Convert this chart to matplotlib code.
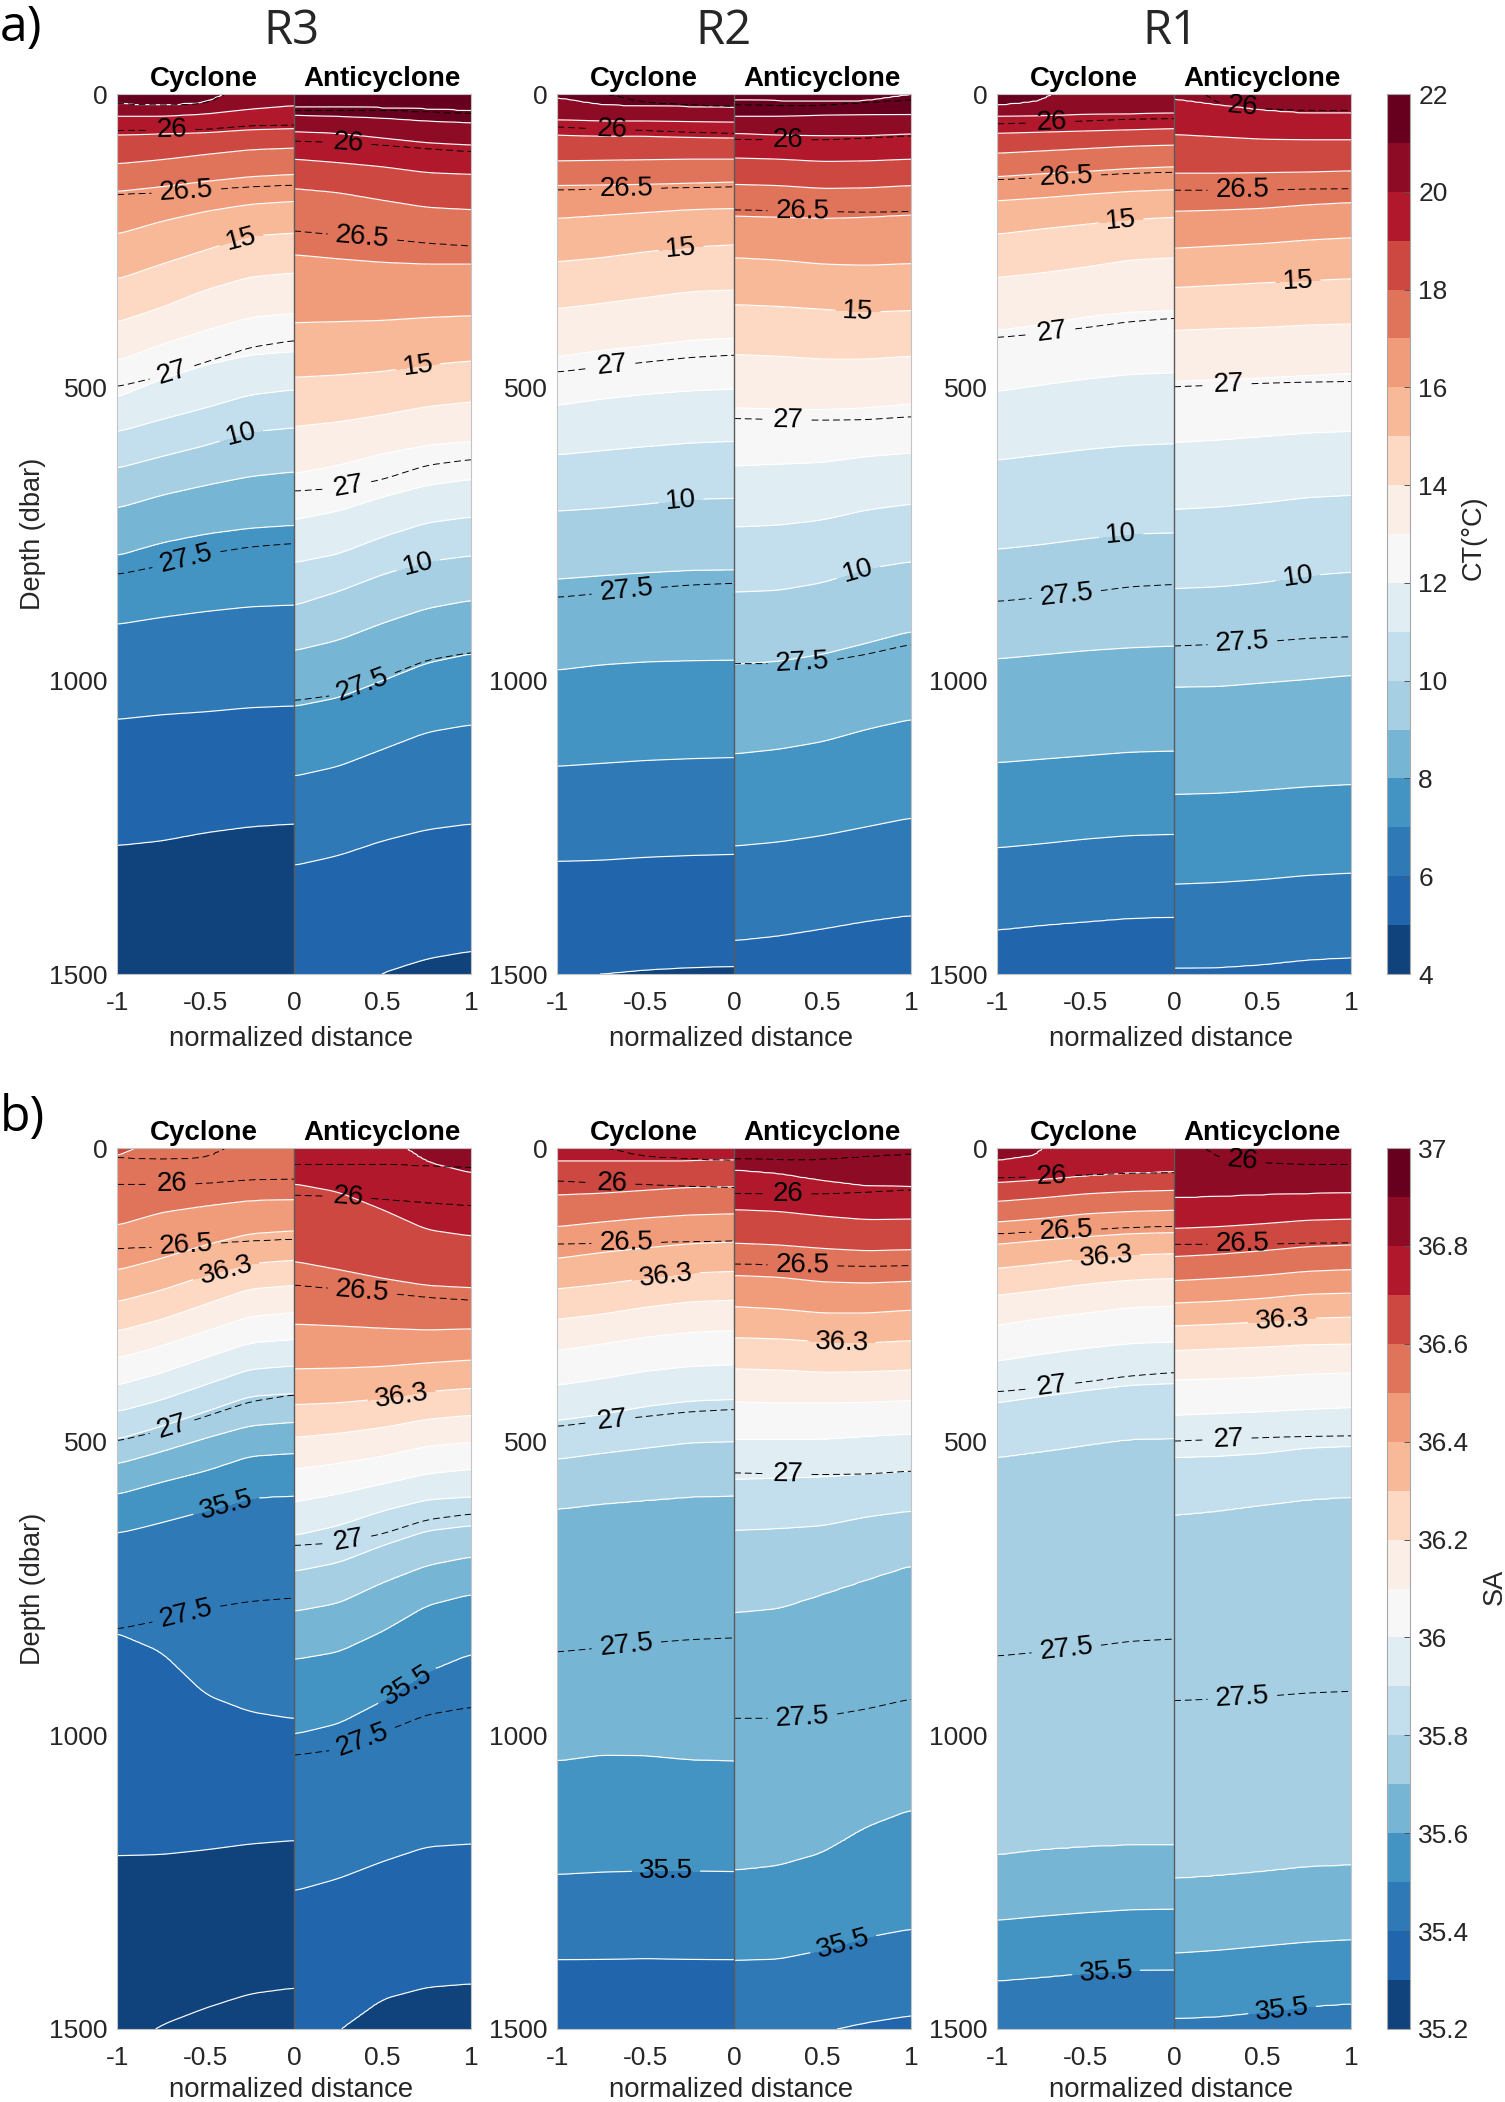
import numpy as np
import matplotlib
matplotlib.use('Agg')
import matplotlib.pyplot as plt
from matplotlib.colors import ListedColormap, BoundaryNorm
from matplotlib.cm import ScalarMappable

plt.rcParams['font.family'] = ['Liberation Sans', 'DejaVu Sans']

W, H = 1505, 2102
GREY = '#262626'

# distance columns of each half section
x_cyc = [-1, -0.75, -0.5, -0.25, 0]
x_ant = [0, 0.25, 0.5, 0.75, 1]

# band colours, lowest band first
band_colors = ['#10437c', '#2166ac', '#2f79b7', '#4393c3', '#77b5d5', '#a6cfe4',
               '#c3deed', '#e0edf3', '#f7f7f7', '#faeee7', '#fdd9c4', '#f8b999',
               '#f09c7b', '#e0745a', '#cc4840', '#b2182b', '#8e0b25', '#67001f']

# CT isotherm depths (dbar), each row is one isotherm, 1 degree apart going down
ct_r3_c_top = 21
ct_r3_c = [[17, 20, 15, -18, -52], [38, 38, 34, 26, 20], [70, 68, 66, 61, 59],
           [119, 112, 103, 95, 92], [166, 158, 149, 141, 137], [239, 217, 200, 188, 183],
           [316, 290, 266, 242, 237], [389, 364, 334, 312, 305], [455, 427, 403, 381, 374],
           [517, 486, 462, 445, 439], [576, 555, 535, 513, 504], [638, 618, 599, 576, 569],
           [706, 684, 667, 652, 644], [787, 765, 750, 740, 735], [904, 892, 882, 874, 871],
           [1066, 1058, 1053, 1046, 1043], [1281, 1273, 1259, 1249, 1244]]
ct_r3_a_top = 22
ct_r3_a = [[22, 22, 24, 26, 29], [36, 38, 41, 46, 49], [64, 67, 75, 83, 87],
           [111, 117, 124, 134, 137], [161, 168, 181, 193, 197], [274, 281, 287, 290, 290],
           [390, 388, 386, 381, 378], [483, 479, 473, 462, 455], [567, 559, 547, 533, 525],
           [647, 633, 613, 599, 592], [726, 711, 687, 667, 657], [799, 784, 755, 731, 721],
           [872, 848, 819, 797, 787], [949, 931, 902, 877, 863], [1044, 1029, 1000, 970, 954],
           [1163, 1146, 1117, 1088, 1075], [1315, 1298, 1273, 1254, 1244],
           [1581, 1542, 1498, 1474, 1461]]
ct_r2_c_top = 21
ct_r2_c = [[7, 19, 21, 22, 24], [44, 46, 46, 47, 48], [70, 72, 72, 74, 75],
           [114, 113, 112, 111, 111], [156, 155, 154, 152, 150], [212, 207, 202, 197, 195],
           [286, 279, 269, 261, 257], [366, 357, 347, 337, 334], [448, 437, 429, 420, 416],
           [531, 520, 512, 506, 503], [615, 608, 601, 595, 592], [711, 706, 699, 691, 689],
           [827, 821, 816, 812, 811], [982, 973, 968, 966, 965], [1146, 1141, 1136, 1133, 1131],
           [1308, 1306, 1301, 1298, 1296], [1503, 1500, 1493, 1489, 1487]]
ct_r2_a_top = 22
ct_r2_a = [[10, 12, 13, 12, 1], [38, 38, 36, 35, 35], [67, 70, 71, 71, 68],
           [109, 111, 115, 114, 111], [154, 156, 161, 160, 156], [208, 210, 212, 210, 206],
           [279, 283, 290, 292, 289], [359, 362, 367, 372, 369], [444, 447, 452, 452, 447],
           [535, 537, 538, 535, 528], [634, 631, 628, 618, 612], [738, 735, 726, 709, 699],
           [849, 846, 833, 809, 797], [972, 967, 955, 936, 916], [1125, 1117, 1104, 1083, 1066],
           [1282, 1275, 1264, 1249, 1234], [1443, 1435, 1423, 1410, 1400]]
ct_r1_c_top = 21
ct_r1_c = [[20, 12, -32, -62, -81], [38, 37, 35, 34, 33], [67, 65, 63, 61, 59],
           [101, 97, 93, 89, 87], [141, 136, 132, 127, 124], [182, 177, 171, 166, 163],
           [239, 230, 222, 214, 210], [313, 305, 295, 283, 279], [403, 393, 380, 372, 369],
           [507, 496, 486, 478, 475], [624, 615, 606, 599, 596], [776, 768, 758, 750, 748],
           [963, 956, 949, 944, 941], [1140, 1134, 1128, 1122, 1120],
           [1285, 1278, 1270, 1264, 1262], [1425, 1417, 1411, 1405, 1403]]
ct_r1_a_top = 20
ct_r1_a = [[9, 19, 28, 33, 33], [69, 73, 77, 78, 78], [135, 135, 134, 133, 131],
           [200, 198, 195, 189, 185], [263, 259, 255, 249, 245], [330, 326, 322, 318, 315],
           [403, 400, 398, 394, 392], [490, 487, 484, 480, 476], [594, 590, 584, 578, 575],
           [708, 704, 697, 688, 684], [843, 840, 833, 821, 815], [1011, 1010, 1004, 998, 991],
           [1194, 1192, 1187, 1181, 1177], [1347, 1344, 1339, 1332, 1328],
           [1490, 1489, 1484, 1476, 1472]]

# SA isohaline depths (dbar), each row is one isohaline, 0.1 apart going down
sa_r3_c_top = 36.6
sa_r3_c = [[14, -18, -52, -81, -111], [132, 110, 99, 90, 88], [208, 188, 165, 146, 141],
           [262, 242, 217, 197, 191], [312, 292, 266, 240, 234], [358, 337, 312, 287, 280],
           [404, 383, 357, 332, 326], [449, 429, 403, 377, 371], [496, 474, 449, 423, 418],
           [538, 517, 494, 473, 467], [590, 569, 550, 525, 520], [656, 638, 618, 596, 592],
           [826, 858, 931, 960, 972], [1205, 1203, 1195, 1185, 1179],
           [1542, 1493, 1464, 1440, 1430]]
sa_r3_a_top = 36.8
sa_r3_a = [[-120, -81, -26, 24, 43], [61, 75, 105, 139, 150], [193, 207, 222, 234, 238],
           [300, 303, 307, 310, 308], [376, 375, 372, 366, 361], [437, 434, 427, 415, 409],
           [493, 486, 476, 462, 455], [547, 537, 525, 508, 501], [603, 589, 572, 555, 547],
           [660, 643, 618, 599, 594], [721, 706, 677, 652, 643], [789, 775, 740, 711, 696],
           [871, 858, 823, 779, 760], [998, 980, 941, 892, 861], [1265, 1244, 1215, 1190, 1185],
           [1581, 1503, 1449, 1429, 1423]]
sa_r2_c_top = 36.7
sa_r2_c = [[22, 22, 22, 22, 21], [80, 77, 72, 67, 66], [134, 126, 119, 114, 112],
           [188, 178, 170, 163, 160], [240, 232, 222, 213, 210], [292, 283, 271, 262, 259],
           [345, 334, 322, 314, 311], [404, 393, 380, 372, 369], [464, 454, 440, 431, 428],
           [530, 520, 511, 502, 500], [615, 606, 600, 594, 592], [1044, 1034, 1035, 1042, 1044],
           [1237, 1233, 1231, 1231, 1232], [1382, 1381, 1380, 1381, 1382]]
sa_r2_a_top = 36.8
sa_r2_a = [[38, 44, 56, 65, 66], [105, 108, 116, 122, 121], [162, 165, 171, 175, 173],
           [217, 220, 228, 230, 227], [270, 274, 281, 281, 276], [323, 325, 330, 332, 328],
           [376, 378, 382, 381, 378], [432, 434, 434, 433, 430], [496, 496, 496, 491, 487],
           [564, 562, 560, 555, 550], [651, 648, 643, 628, 618], [791, 784, 760, 735, 711],
           [1230, 1222, 1200, 1156, 1127], [1383, 1381, 1366, 1344, 1330],
           [1620, 1581, 1505, 1489, 1477]]
sa_r1_c_top = 36.8
sa_r1_c = [[22, 11, -120, -140, -159], [59, 54, 48, 43, 41], [91, 85, 78, 74, 72],
           [126, 120, 112, 108, 106], [164, 157, 151, 146, 144], [205, 197, 188, 182, 180],
           [251, 242, 232, 225, 222], [302, 290, 281, 272, 269], [363, 351, 341, 333, 330],
           [434, 423, 413, 404, 401], [527, 517, 506, 496, 494], [1204, 1195, 1190, 1187, 1187],
           [1315, 1308, 1302, 1297, 1296], [1418, 1412, 1405, 1400, 1399]]
sa_r1_a_top = 36.8
sa_r1_a = [[85, 83, 80, 78, 77], [137, 134, 129, 123, 121], [185, 181, 175, 168, 165],
           [226, 222, 217, 210, 207], [264, 261, 256, 249, 247], [303, 300, 296, 290, 288],
           [345, 342, 339, 335, 334], [395, 393, 390, 385, 383], [455, 452, 449, 445, 442],
           [527, 525, 520, 511, 508], [625, 618, 608, 599, 594], [1244, 1239, 1232, 1224, 1221],
           [1371, 1366, 1359, 1352, 1348], [1482, 1479, 1471, 1462, 1457]]

# isopycnal depths (dbar) for 25.5, 26, 26.5, 27, 27.5, same in both rows
sig_r3_c = [[17, 20, 17, -18, -52], [62, 62, 60, 54, 53], [171, 168, 163, 158, 155],
            [499, 481, 457, 432, 420], [819, 804, 784, 772, 766]]
sig_r3_a = [[28, 28, 28, 31, 34], [80, 82, 87, 93, 98], [233, 240, 246, 254, 259],
            [677, 672, 657, 633, 623], [1034, 1024, 995, 965, 952]]
sig_r2_c = [[-52, -1, 15, 19, 22], [56, 60, 62, 65, 67], [163, 162, 161, 159, 158],
            [474, 465, 457, 449, 445], [858, 851, 843, 837, 834]]
sig_r2_a = [[19, 20, 20, 15, 11], [77, 78, 78, 75, 71], [197, 199, 200, 201, 200],
            [553, 555, 556, 555, 550], [971, 971, 968, 955, 938]]
sig_r1_c = [[-60, -60, -60, -60, -60], [51, 49, 46, 43, 42], [146, 142, 139, 135, 133],
            [415, 408, 398, 388, 382], [865, 858, 850, 840, 836]]
sig_r1_a = [[-60, -60, -60, -60, -60], [-42, 17, 25, 28, 28], [164, 164, 163, 162, 161],
            [499, 496, 493, 491, 490], [941, 938, 934, 928, 925]]

# where along x the contour labels sit
sig_lab_c = {26: -0.69, 26.5: -0.61, 27: -0.69, 27.5: -0.61}
sig_lab_a = {26: 0.306, 26.5: 0.386, 27: 0.306, 27.5: 0.386}
sig_lab_r1_a = {26: 0.386, 26.5: 0.386, 27: 0.306, 27.5: 0.386}
ct_lab_c = {15: -0.30, 10: -0.30}
ct_lab_a = {15: 0.70, 10: 0.70}
sa_lab_c = {36.3: -0.385, 35.5: -0.385}
sa_lab_r3_a = {36.3: 0.608, 35.5: 0.636}
sa_lab_r2_a = {36.3: 0.608, 35.5: 0.617}
sa_lab_r1_a = {36.3: 0.61, 35.5: 0.61}

z = np.arange(0, 1502, 2.0)


def build_field(x, rows, top, step):
    # finer columns so the lines stay clean between the read columns
    xf = np.linspace(x[0], x[-1], 41)
    d = np.array([np.interp(xf, x, row) for row in rows], dtype=float)
    pad = np.pad(d, ((0, 0), (2, 2)), mode='edge')
    d = np.array([np.convolve(row, np.ones(5) / 5, mode='valid') for row in pad])
    vals = top - step * np.arange(d.shape[0])
    F = np.zeros((len(z), d.shape[1]))
    for c in range(d.shape[1]):
        xp = np.r_[d[0, c] - 400, d[:, c], d[-1, c] + 400]
        fp = np.r_[top + step, vals, vals[-1] - step]
        F[:, c] = np.interp(z, xp, fp)
    return xf, F, np.round(vals, 1)


def draw_half(ax, x, rows, top, step, lims, sig_rows, lab_iso, lab_sig):
    levels = np.round(np.arange(lims[0], lims[1] + step / 2, step), 1)
    xf, F, vals = build_field(x, rows, top, step)
    ax.contourf(xf, z, np.clip(F, lims[0] + 1e-6, lims[1] - 1e-6), levels=levels, colors=band_colors)
    # white lines, the labelled ones in a contour set of their own
    lab_levels = sorted(lab_iso)
    plain = [v for v in np.sort(vals) if v not in lab_levels]
    ax.contour(xf, z, F, levels=plain, colors='white', linewidths=0.85)
    cs = ax.contour(xf, z, F, levels=lab_levels, colors='white', linewidths=0.85)
    spots = [(lab_iso[lev], np.interp(lab_iso[lev], x, rows[int(round((top - lev) / step))])) for lev in lab_levels]
    ax.clabel(cs, manual=spots, fmt=lambda v: f'{v:g}', fontsize=20, colors='k',
              inline=True, inline_spacing=7)
    # dashed density lines
    xf, G, sig_vals = build_field(x, sig_rows, 25.5, -0.5)
    dash = [(0, (7, 4))]
    if np.max(sig_rows[0]) > 0:
        ax.contour(xf, z, G, levels=[25.5], colors='k', linewidths=0.7, linestyles=dash)
    lab_sig_levels = sorted(lab_sig)
    cg = ax.contour(xf, z, G, levels=lab_sig_levels, colors='k', linewidths=0.7, linestyles=dash)
    spots = [(lab_sig[lev], np.interp(lab_sig[lev], x, sig_rows[int(round((lev - 25.5) / 0.5))])) for lev in lab_sig_levels]
    ax.clabel(cg, manual=spots, fmt=lambda v: f'{v:g}', fontsize=20, colors='k',
              inline=True, inline_spacing=8)


def make_axes(fig, left, right, top, bottom):
    return fig.add_axes([left / W, 1 - bottom / H, (right - left) / W, (bottom - top) / H])


fig = plt.figure(figsize=(W / 100, H / 100), dpi=100)

col_px = [(117.3, 471), (557.3, 911), (997.3, 1351)]
row_px = [(94, 974), (1148, 2029)]

row_a = [(ct_r3_c, ct_r3_c_top, ct_r3_a, ct_r3_a_top, sig_r3_c, sig_r3_a, ct_lab_c, ct_lab_a, sig_lab_a),
         (ct_r2_c, ct_r2_c_top, ct_r2_a, ct_r2_a_top, sig_r2_c, sig_r2_a, ct_lab_c, ct_lab_a, sig_lab_a),
         (ct_r1_c, ct_r1_c_top, ct_r1_a, ct_r1_a_top, sig_r1_c, sig_r1_a, ct_lab_c, ct_lab_a, sig_lab_r1_a)]
row_b = [(sa_r3_c, sa_r3_c_top, sa_r3_a, sa_r3_a_top, sig_r3_c, sig_r3_a, sa_lab_c, sa_lab_r3_a, sig_lab_a),
         (sa_r2_c, sa_r2_c_top, sa_r2_a, sa_r2_a_top, sig_r2_c, sig_r2_a, sa_lab_c, sa_lab_r2_a, sig_lab_a),
         (sa_r1_c, sa_r1_c_top, sa_r1_a, sa_r1_a_top, sig_r1_c, sig_r1_a, sa_lab_c, sa_lab_r1_a, sig_lab_r1_a)]

rows_cfg = [(row_a, 1, (4, 22), 8), (row_b, 0.1, (35.2, 37), 4.5)]

for r, (panels, step, lims, xlab_pad) in enumerate(rows_cfg):
    top_px, bot_px = row_px[r]
    for c, p in enumerate(panels):
        ax = make_axes(fig, col_px[c][0], col_px[c][1], top_px, bot_px)
        ax.set_xlim(-1, 1)
        ax.set_ylim(1500, 0)
        draw_half(ax, x_cyc, p[0], p[1], step, lims, p[4], p[6], sig_lab_c)
        draw_half(ax, x_ant, p[2], p[3], step, lims, p[5], p[7], p[8])
        ax.axvline(0, color='#5a5a5a', lw=1.0)
        ax.set_xlim(-1, 1)
        ax.set_ylim(1500, 0)
        ax.set_xticks([-1, -0.5, 0, 0.5, 1])
        ax.set_xticklabels(['-1', '-0.5', '0', '0.5', '1'])
        ax.set_yticks([0, 500, 1000, 1500])
        ax.tick_params(length=0, labelsize=19, labelcolor=GREY)
        ax.tick_params(axis='x', pad=12.5)
        ax.tick_params(axis='y', pad=7)
        for s in ax.spines.values():
            s.set_color('#c4c4c4')
            s.set_linewidth(0.8)
        ax.set_xlabel('normalized distance', fontsize=19.8, color=GREY, x=0.49, labelpad=xlab_pad)
        if c == 0:
            ax.set_ylabel('Depth (dbar)', fontsize=19.5, color=GREY, labelpad=2.5)
        ax.text(-0.508, 1.0165, 'Cyclone', transform=ax.get_xaxis_transform(), ha='center', va='center',
                fontsize=20, fontweight='bold', color='k')
        ax.text(0.497, 1.0165, 'Anticyclone', transform=ax.get_xaxis_transform(), ha='center', va='center',
                fontsize=20, fontweight='bold', color='k')

# colour bars
cmap = ListedColormap(band_colors)
bar_cfg = [(np.arange(4, 23, 1), [str(v) for v in range(4, 23, 2)], np.arange(4, 23, 2), 'CT(°C)', 1474, 538),
           (np.round(np.arange(35.2, 37.05, 0.1), 1),
            ['35.2', '35.4', '35.6', '35.8', '36', '36.2', '36.4', '36.6', '36.8', '37'],
            np.round(np.arange(35.2, 37.05, 0.2), 1), 'SA', 1495, 1587)]
for r, (bounds, tick_labels, ticks, name, lx, ly) in enumerate(bar_cfg):
    top_px, bot_px = row_px[r]
    cax = make_axes(fig, 1386.7, 1410, top_px, bot_px)
    cb = fig.colorbar(ScalarMappable(norm=BoundaryNorm(bounds, cmap.N), cmap=cmap), cax=cax,
                      spacing='uniform', ticks=ticks)
    cb.set_ticklabels(tick_labels)
    cb.minorticks_off()
    cb.outline.set_edgecolor('#a8a8a8')
    cb.outline.set_linewidth(0.8)
    cax.tick_params(direction='in', length=4, width=0.7, color='#555555', labelsize=19,
                    labelcolor=GREY, pad=6)
    fig.text(lx / W, 1 - ly / H, name, rotation=90, ha='center', va='center', fontsize=19.5, color=GREY)

# section titles and panel letters
for name, px in zip(['R3', 'R2', 'R1'], [291, 723, 1170]):
    fig.text(px / W, 1 - 31 / H, name, family='Open Sans', fontsize=34, ha='center', va='center', color=GREY)
fig.text(0, 1 - 28 / H, 'a)', family='Open Sans', fontsize=36, ha='left', va='center', color='k')
fig.text(0, 1 - 1118 / H, 'b)', family='Open Sans', fontsize=36, ha='left', va='center', color='k')

fig.savefig('out.png', dpi=100)
